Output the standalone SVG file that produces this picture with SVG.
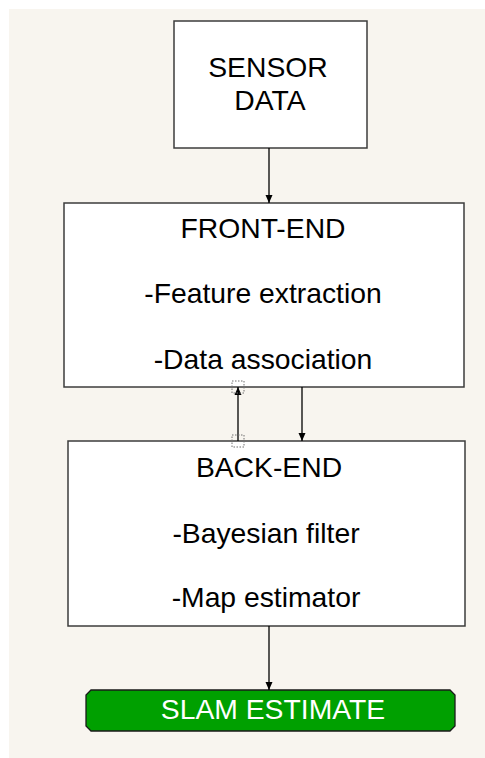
<svg xmlns="http://www.w3.org/2000/svg" width="485" height="758" viewBox="0 0 485 758">
<style>
.box{fill:#ffffff;stroke:#3c3c3c;stroke-width:1.5}
.t{font-family:"Liberation Sans",Arial,sans-serif;font-size:28.3px;fill:#000;text-anchor:middle}
.w{fill:#ffffff}
.c{stroke:#000;stroke-width:1.3;fill:none}
.h{fill:none;stroke:#707070;stroke-width:1;stroke-dasharray:1.5 1.5}
</style>
<defs>
<marker id="ah" viewBox="0 0 8 8" refX="8" refY="4" markerWidth="8" markerHeight="8" markerUnits="userSpaceOnUse" orient="auto">
<path d="M0,0.5 L8,4 L0,7.5 Z" fill="#000"/>
</marker>
</defs>
<rect x="0" y="0" width="485" height="758" fill="#ffffff"/>
<rect x="9" y="9" width="476" height="749" fill="#f8f5ef"/>
<g id="sensor-data">
<rect class="box" x="174" y="21" width="193" height="127"/>
<text class="t" x="268" y="77">SENSOR</text>
<text class="t" x="270" y="110">DATA</text>
</g>
<g id="front-end">
<rect class="box" x="64" y="203" width="400" height="184"/>
<text class="t" x="263" y="238">FRONT-END</text>
<text class="t" x="263" y="303">-Feature extraction</text>
<text class="t" x="263" y="369">-Data association</text>
</g>
<g id="back-end">
<rect class="box" x="68" y="441" width="397" height="185"/>
<text class="t" x="269" y="477">BACK-END</text>
<text class="t" x="266" y="543">-Bayesian filter</text>
<text class="t" x="266" y="607">-Map estimator</text>
</g>
<g id="slam-estimate">
<path d="M91,690 L450,690 L455,695 L455,726 L450,731 L91,731 L86,726 L86,695 Z" fill="#00a000" stroke="#1a1a1a" stroke-width="1.3"/>
<text class="t w" x="273" y="719">SLAM ESTIMATE</text>
</g>
<g id="connectors">
<line class="c" x1="269" y1="148" x2="269" y2="203" marker-end="url(#ah)"/>
<line class="c" x1="302" y1="387" x2="302" y2="441" marker-end="url(#ah)"/>
<line class="c" x1="238" y1="441" x2="238" y2="387" marker-end="url(#ah)"/>
<line class="c" x1="269" y1="626" x2="269" y2="690" marker-end="url(#ah)"/>
<rect class="h" x="232" y="381" width="12" height="12"/>
<rect class="h" x="232" y="435" width="12" height="12"/>
</g>
</svg>
